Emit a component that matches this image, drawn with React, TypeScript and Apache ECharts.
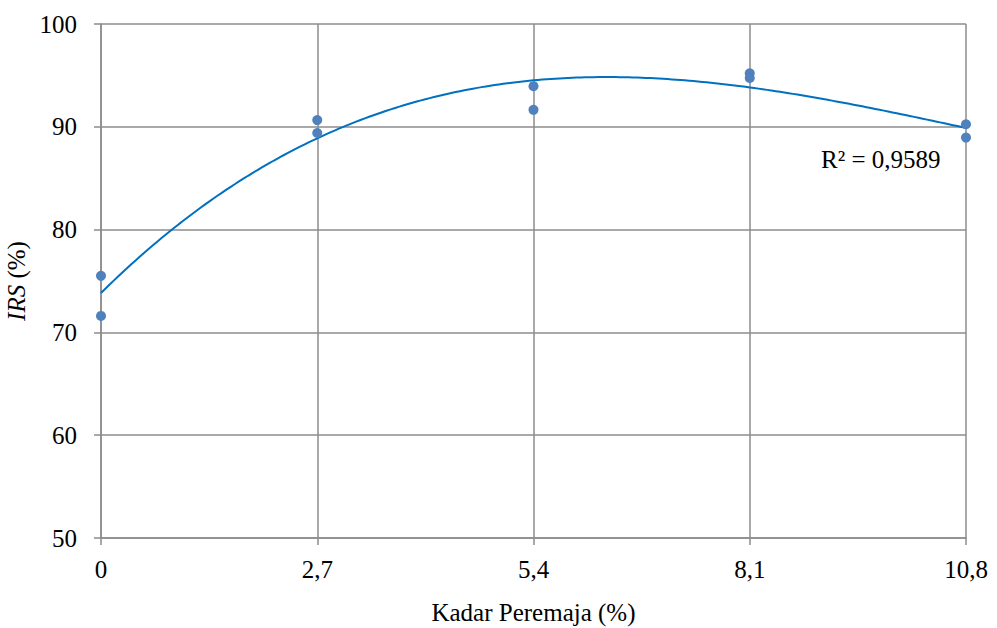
import React, { useEffect, useRef } from "react";
import * as echarts from "echarts";

// Data
const kadarPeremaja: number[] = [0, 0, 2.7, 2.7, 5.4, 5.4, 8.1, 8.1, 10.8, 10.8];
const irsValues: number[] = [75.5, 71.6, 90.65, 89.4, 93.95, 91.65, 95.2, 94.75, 90.25, 88.95];
const xTickLabels: string[] = ["0", "2,7", "5,4", "8,1", "10,8"];
const rSquaredLabel = "R² = 0,9589";
const trendOrder = 3;

const FONT = "Times New Roman, Liberation Serif, DejaVu Serif, serif";
const FONT_SIZE = 25;
const GRID_COLOR = "#8c8c8c";

// Least-squares polynomial fit (trendline) computed from the data points
function polyFit(xs: number[], ys: number[], order: number): number[] {
  const n = order + 1;
  const A: number[][] = [];
  for (let i = 0; i < n; i++) {
    const row: number[] = [];
    for (let j = 0; j < n; j++) {
      let s = 0;
      for (let k = 0; k < xs.length; k++) s += Math.pow(xs[k], i + j);
      row.push(s);
    }
    let r = 0;
    for (let k = 0; k < xs.length; k++) r += ys[k] * Math.pow(xs[k], i);
    row.push(r);
    A.push(row);
  }
  for (let c = 0; c < n; c++) {
    let p = c;
    for (let r = c + 1; r < n; r++) if (Math.abs(A[r][c]) > Math.abs(A[p][c])) p = r;
    [A[c], A[p]] = [A[p], A[c]];
    for (let r = 0; r < n; r++) {
      if (r === c) continue;
      const f = A[r][c] / A[c][c];
      for (let j = c; j <= n; j++) A[r][j] -= f * A[c][j];
    }
  }
  return A.map((row, i) => row[n] / row[i]);
}

export default function App() {
  const ref = useRef<HTMLDivElement>(null);
  useEffect(() => {
    if (!ref.current) return;
    const chart = echarts.init(ref.current, undefined, { renderer: "svg" });
    const coeffs = polyFit(kadarPeremaja, irsValues, trendOrder);
    const xMin = Math.min(...kadarPeremaja);
    const xMax = Math.max(...kadarPeremaja);
    const steps = 200;
    const trend: number[][] = [];
    for (let i = 0; i <= steps; i++) {
      const x = xMin + ((xMax - xMin) * i) / steps;
      const y = coeffs.reduce((acc, c, p) => acc + c * Math.pow(x, p), 0);
      trend.push([x, y]);
    }
    const points = kadarPeremaja.map((x, i) => [x, irsValues[i]]);

    chart.setOption({
      animation: false,
      backgroundColor: "#ffffff",
      textStyle: { fontFamily: FONT },
      grid: {
        left: 101,
        top: 24,
        right: 31,
        bottom: 90,
        containLabel: false,
        outerBoundsMode: "none",
      },
      xAxis: {
        type: "value",
        min: 0,
        max: 10.8,
        interval: 2.7,
        name: "Kadar Peremaja (%)",
        nameLocation: "middle",
        nameGap: 62,
        nameTextStyle: { fontFamily: FONT, fontSize: FONT_SIZE, color: "#000" },
        axisLine: { show: true, lineStyle: { color: GRID_COLOR, width: 1.5 } },
        axisTick: { show: true, inside: false, length: 7, lineStyle: { color: GRID_COLOR, width: 1.5 } },
        axisLabel: {
          fontFamily: FONT,
          fontSize: FONT_SIZE,
          color: "#000",
          margin: 19,
          formatter: (v: number) => xTickLabels[Math.round(v / 2.7)] ?? "",
        },
        splitLine: { show: true, lineStyle: { color: GRID_COLOR, width: 1.5 } },
      },
      yAxis: {
        type: "value",
        min: 50,
        max: 100,
        interval: 10,
        name: "{i|IRS} {n|(%)}",
        nameLocation: "middle",
        nameGap: 67,
        nameRotate: 90,
        nameTextStyle: {
          fontFamily: FONT,
          fontSize: FONT_SIZE,
          color: "#000",
          rich: {
            i: { fontFamily: FONT, fontSize: FONT_SIZE, fontStyle: "italic", color: "#000" },
            n: { fontFamily: FONT, fontSize: FONT_SIZE, color: "#000" },
          },
        },
        axisLine: { show: true, lineStyle: { color: GRID_COLOR, width: 1.5 } },
        axisTick: { show: true, inside: false, length: 7, lineStyle: { color: GRID_COLOR, width: 1.5 } },
        axisLabel: { fontFamily: FONT, fontSize: FONT_SIZE, color: "#000", margin: 24 },
        splitLine: { show: true, lineStyle: { color: GRID_COLOR, width: 1.5 } },
      },
      series: [
        {
          type: "line",
          data: trend,
          showSymbol: false,
          symbol: "none",
          smooth: false,
          lineStyle: { color: "#0070C0", width: 2 },
          z: 2,
        },
        {
          type: "scatter",
          data: points,
          symbol: "circle",
          symbolSize: 10,
          itemStyle: { color: "#4F81BD", opacity: 1 },
          z: 3,
        },
      ],
      graphic: [
        {
          type: "text",
          left: 821,
          top: 147,
          style: { text: rSquaredLabel, fontFamily: FONT, fontSize: FONT_SIZE, fill: "#000" },
        },
      ],
    });
    return () => chart.dispose();
  }, []);
  return (
    <div
      ref={ref}
      style={{ position: "absolute", left: 0, top: 0, width: 997, height: 628 }}
    />
  );
}
